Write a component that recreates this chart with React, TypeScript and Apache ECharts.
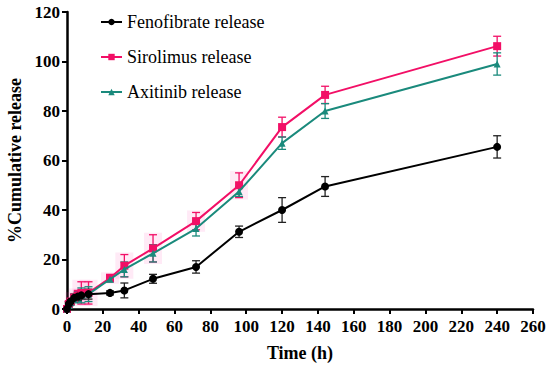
import React, { useEffect, useRef } from "react";
import * as echarts from "echarts";

const times = [0, 1, 2, 4, 6, 8, 12, 24, 32, 48, 72, 96, 120, 144, 240];
const fenoValues = [0, 2, 3, 4.5, 5, 5.5, 6, 6.5, 7.5, 12.2, 17, 31.2, 40, 49.5, 65.5];
const fenoErr = [0.5, 1, 1, 1.5, 1.5, 1.5, 2, 0.8, 3, 1.8, 2.5, 2.3, 5, 4, 4.5];
const siroValues = [0, 2, 3, 4.5, 5.5, 6.5, 6.5, 12.5, 17.5, 24.5, 35.5, 50, 73.5, 86.5, 106.2];
const siroErr = [0.5, 1, 1, 1.5, 2, 4.5, 4.5, 1.5, 4.5, 5.5, 3.5, 5, 4, 3.5, 4];
const axiValues = [0, 1.5, 2.5, 4, 5, 5.5, 6, 12, 16, 22.5, 32.5, 47.5, 67, 80, 99];
const axiErr = [0.5, 1, 1, 1.5, 2, 3, 3, 1, 3, 3.5, 3, 2, 2.5, 3, 4.5];

const seriesNames = ["Fenofibrate release", "Sirolimus release", "Axitinib release"];
const xTicks = { min: 0, max: 260, interval: 20 };
const yTicks = { min: 0, max: 120, interval: 20 };

const FONT = "serif";

function errSeries(values: number[], errs: number[], color: string, shade: boolean) {
  return {
    type: "custom",
    silent: true,
    z: 1,
    data: times.map((t, i) => [t, values[i], errs[i]]),
    encode: { x: 0, y: 1 },
    renderItem: (params: any, api: any) => {
      const x = api.value(0);
      const y = api.value(1);
      const e = api.value(2);
      const top = api.coord([x, y + e]);
      const bot = api.coord([x, y - e]);
      const cw = 4;
      const children: any[] = [];
      if (shade && x >= 4 && x <= 96) {
        children.push({
          type: "rect",
          shape: { x: top[0] - 9, y: top[1] - 2, width: 18, height: bot[1] - top[1] + 4 },
          style: { fill: "rgba(255,60,170,0.11)" },
        });
      }
      children.push(
        { type: "line", shape: { x1: top[0], y1: top[1], x2: bot[0], y2: bot[1] }, style: { stroke: color, lineWidth: 1.3 } },
        { type: "line", shape: { x1: top[0] - cw, y1: top[1], x2: top[0] + cw, y2: top[1] }, style: { stroke: color, lineWidth: 1.3 } },
        { type: "line", shape: { x1: bot[0] - cw, y1: bot[1], x2: bot[0] + cw, y2: bot[1] }, style: { stroke: color, lineWidth: 1.3 } }
      );
      return { type: "group", children };
    },
  };
}

export default function App() {
  const ref = useRef<HTMLDivElement>(null);
  useEffect(() => {
    if (!ref.current) return;
    const chart = echarts.init(ref.current, undefined, { renderer: "svg" });
    const pink = "#f20f66";
    const teal = "#1a8a7c";
    const black = "#000000";
    chart.setOption({
      animation: false,
      backgroundColor: "#ffffff",
      textStyle: { fontFamily: FONT },
      grid: { left: 67, right: 17, top: 12, bottom: 56, containLabel: false, outerBoundsMode: "none" },
      legend: {
        orient: "vertical",
        left: 95,
        top: 8,
        itemWidth: 21,
        itemHeight: 8,
        itemGap: 17,
        data: seriesNames,
        textStyle: { fontFamily: FONT, fontSize: 18, color: "#000" },
      },
      xAxis: {
        type: "value",
        min: xTicks.min,
        max: xTicks.max,
        interval: xTicks.interval,
        name: "Time (h)",
        nameLocation: "middle",
        nameGap: 35,
        nameTextStyle: { fontFamily: FONT, fontSize: 18, fontWeight: "bold", color: "#000" },
        axisLine: { lineStyle: { color: "#000", width: 2.5 } },
        axisTick: { length: 5, lineStyle: { color: "#000", width: 2 } },
        axisLabel: { fontFamily: FONT, fontSize: 17, fontWeight: "bold", color: "#000", margin: 9 },
        splitLine: { show: false },
      },
      yAxis: {
        type: "value",
        min: yTicks.min,
        max: yTicks.max,
        interval: yTicks.interval,
        name: "%Cumulative release",
        nameLocation: "middle",
        nameGap: 40,
        nameTextStyle: { fontFamily: FONT, fontSize: 18, fontWeight: "bold", color: "#000" },
        axisLine: { show: true, lineStyle: { color: "#000", width: 2.5 } },
        axisTick: { show: true, length: 5, lineStyle: { color: "#000", width: 2 } },
        axisLabel: { fontFamily: FONT, fontSize: 17, fontWeight: "bold", color: "#000", margin: 7 },
        splitLine: { show: false },
      },
      series: [
        errSeries(siroValues, siroErr, pink, true),
        errSeries(axiValues, axiErr, teal, false),
        errSeries(fenoValues, fenoErr, "#222", false),
        {
          name: seriesNames[1],
          type: "line",
          z: 3,
          data: times.map((t, i) => [t, siroValues[i]]),
          symbol: "rect",
          symbolSize: 8,
          itemStyle: { color: pink },
          lineStyle: { color: pink, width: 2 },
        },
        {
          name: seriesNames[2],
          type: "line",
          z: 4,
          data: times.map((t, i) => [t, axiValues[i]]),
          symbol: "triangle",
          symbolSize: 7,
          itemStyle: { color: teal },
          lineStyle: { color: teal, width: 2 },
        },
        {
          name: seriesNames[0],
          type: "line",
          z: 5,
          data: times.map((t, i) => [t, fenoValues[i]]),
          symbol: "circle",
          symbolSize: 8,
          itemStyle: { color: black },
          lineStyle: { color: black, width: 2 },
        },
      ],
    });
    return () => chart.dispose();
  }, []);
  return <div ref={ref} style={{ width: 550, height: 365, position: "absolute", left: 0, top: 0 }} />;
}
